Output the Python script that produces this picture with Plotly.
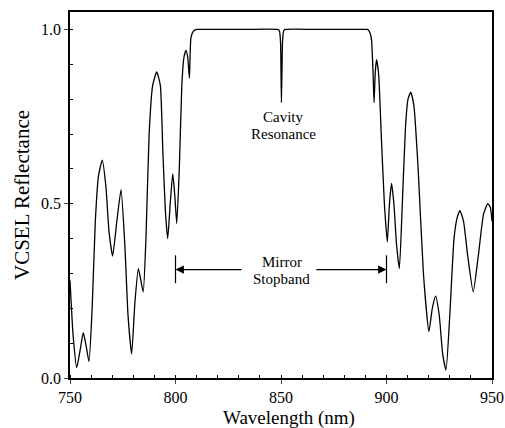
import plotly.graph_objects as go

# Wavelength (nm) and reflectance
wavelength = [750, 751.5, 753.2, 754.8, 756.3, 757.7, 759.0, 760.5, 762, 763.5, 765.3, 767, 768.5, 770.2,
              772.2, 774.2, 776, 777.5, 779.2, 780.8, 782.4, 783.6, 784.7, 786, 787.5, 789.2, 791.1,
              792.8, 794, 795.2, 796.3, 797.5, 798.7, 799.7, 800.6, 801.8, 803, 804, 805, 805.8, 806.6,
              807.3, 808.5, 810, 812, 830, 848.5, 849.3, 849.8, 850.2, 850.7, 851.2, 852, 870, 889, 891,
              892.2, 892.9, 893.6, 894.1,
              894.7, 895.3, 896.3, 897.5, 899, 900.4, 901.4, 902.4, 903.5, 904.8, 906.1, 907.5, 909,
              910.2, 911.5, 913, 915, 917.5, 920.1, 921.7, 923.3, 925, 926.6, 928.2, 930, 932, 933.5,
              934.8, 936.5, 938.5, 941.1, 943.5, 946, 948, 949.2, 950]
reflectance = [0.28, 0.12, 0.03, 0.08, 0.13, 0.09, 0.047, 0.2, 0.45, 0.58, 0.625, 0.55, 0.42, 0.35,
               0.45, 0.54, 0.38, 0.18, 0.069, 0.22, 0.314, 0.28, 0.247, 0.4, 0.7, 0.84, 0.878,
               0.84, 0.65, 0.48, 0.40, 0.5, 0.586, 0.52, 0.443, 0.6, 0.84, 0.92, 0.94, 0.92, 0.86,
               0.975, 0.995, 1.0, 1.0, 1.0, 1.0, 0.995, 0.96, 0.79, 0.96, 0.995, 1.0, 1.0, 1.0, 1.0,
               0.99, 0.97, 0.88, 0.79,
               0.88, 0.913, 0.87, 0.7, 0.5, 0.39, 0.5, 0.558, 0.5, 0.38, 0.314, 0.5, 0.72,
               0.8, 0.82, 0.78, 0.6, 0.3, 0.133, 0.2, 0.235, 0.18, 0.07, 0.023, 0.18, 0.4, 0.46,
               0.48, 0.45, 0.35, 0.247, 0.35, 0.47, 0.50, 0.49, 0.45]

x_ticks = [750, 800, 850, 900, 950]
y_ticks = [0.0, 0.5, 1.0]
y_tick_labels = ["0.0", "0.5", "1.0"]

stopband = [800, 900]

FONT = "Liberation Serif"

fig = go.Figure()
fig.add_trace(go.Scatter(x=wavelength, y=reflectance, mode="lines",
                         line=dict(color="black", width=1.3, shape="spline", smoothing=0.5),
                         showlegend=False, hoverinfo="skip"))

annotations = [
    dict(x=851, y=0.748, text="Cavity", showarrow=False, font=dict(size=15)),
    dict(x=851, y=0.699, text="Resonance", showarrow=False, font=dict(size=15)),
    dict(x=850.3, y=0.333, text="Mirror", showarrow=False, font=dict(size=15)),
    dict(x=850.3, y=0.283, text="Stopband", showarrow=False, font=dict(size=15)),
    dict(x=stopband[0], y=0.311, ax=832, ay=0.311, axref="x", ayref="y", text="",
         showarrow=True, arrowhead=2, arrowsize=1.4, arrowwidth=1.2, arrowcolor="black"),
    dict(x=stopband[1], y=0.311, ax=866, ay=0.311, axref="x", ayref="y", text="",
         showarrow=True, arrowhead=2, arrowsize=1.4, arrowwidth=1.2, arrowcolor="black"),
    dict(x=0.52, y=0, xref="paper", yref="paper", yanchor="top", yshift=-27,
         text="Wavelength (nm)", showarrow=False, font=dict(size=19)),
]
shapes = [dict(type="line", x0=s, x1=s, y0=0.272, y1=0.352, xref="x", yref="y",
               line=dict(color="black", width=1.2)) for s in stopband]

fig.update_layout(
    width=505, height=428,
    margin=dict(l=70, r=13, t=12, b=50, autoexpand=False),
    paper_bgcolor="white", plot_bgcolor="white",
    font=dict(family=FONT, color="black", size=16),
    annotations=annotations, shapes=shapes,
)
fig.update_xaxes(range=[750, 950], tickvals=x_ticks, ticks="outside", ticklen=4,
                 tickfont=dict(size=16), showgrid=False, zeroline=False, automargin=False,
                 showline=True, linecolor="black", linewidth=1.5, mirror=True,
                 minor=dict(dtick=10, ticks="inside", ticklen=3, tickcolor="black"))
fig.update_yaxes(range=[0, 1.05], tickvals=y_ticks, ticktext=y_tick_labels, ticks="outside", ticklen=4,
                 tickfont=dict(size=16), showgrid=False, zeroline=False, automargin=False,
                 showline=True, linecolor="black", linewidth=1.5, mirror=True,
                 minor=dict(dtick=0.1, ticks="inside", ticklen=3, tickcolor="black"),
                 title=dict(text="VCSEL Reflectance", font=dict(size=21), standoff=6))

fig.write_html("out.html")
